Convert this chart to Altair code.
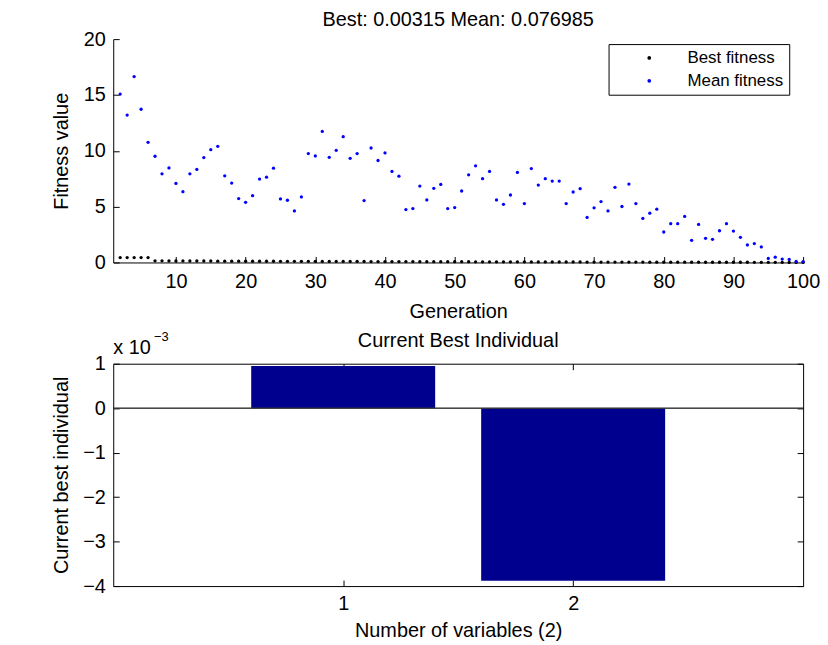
import altair as alt
import pandas as pd

FONT = "Liberation Sans"

# ---------------- data: top panel ----------------
generations = list(range(2, 101))
mean_fitness = [
    15.08, 13.2, 16.65, 13.72, 10.76, 9.51, 7.94, 8.47, 7.08, 6.34,
    7.94, 8.33, 9.39, 10.1, 10.4, 7.76, 7.11, 5.72, 5.39, 5.98,
    7.47, 7.64, 8.44, 5.69, 5.57, 4.62, 5.87, 9.75, 9.54, 11.73,
    9.42, 10.04, 11.26, 9.33, 9.75, 5.54, 10.25, 9.13, 9.81, 8.15,
    7.73, 4.74, 4.83, 6.84, 5.6, 6.64, 6.99, 4.83, 4.92, 6.4,
    7.85, 8.65, 7.5, 8.15, 5.6, 5.21, 6.04, 8.06, 5.27, 8.41,
    6.93, 7.5, 7.29, 7.29, 5.27,
    6.31, 6.61, 4.03, 4.89, 5.45, 4.62, 6.73, 5.01, 7.02, 5.27,
    3.94, 4.41, 4.77, 2.73, 3.47, 3.47, 4.12, 1.98, 3.41, 2.16,
    2.07, 2.84, 3.47, 2.81, 2.25, 1.57, 1.69, 1.39, 0.36, 0.47,
    0.30, 0.27, 0.09, 0.077,
]
best_fitness = [
    0.44, 0.44, 0.44, 0.44, 0.44,
    0.15, 0.15, 0.14, 0.14, 0.14, 0.13, 0.13, 0.13, 0.13, 0.12,
    0.12, 0.12, 0.12, 0.11, 0.11, 0.11, 0.11, 0.11, 0.10, 0.10,
    0.10, 0.10, 0.10, 0.10, 0.09, 0.09, 0.09, 0.09, 0.09, 0.09,
    0.09, 0.08, 0.08, 0.08, 0.08, 0.08, 0.08, 0.08, 0.07, 0.07,
    0.07, 0.07, 0.07, 0.07, 0.07, 0.07, 0.06, 0.06, 0.06, 0.06,
    0.06, 0.06, 0.06, 0.06, 0.05, 0.05, 0.05, 0.05, 0.05, 0.05,
    0.05, 0.05, 0.04, 0.04, 0.04, 0.04, 0.04, 0.04, 0.04, 0.04,
    0.04, 0.03, 0.03, 0.03, 0.03, 0.03, 0.03, 0.03, 0.03, 0.02,
    0.02, 0.02, 0.02, 0.02, 0.02, 0.02, 0.01, 0.01, 0.01, 0.01,
    0.01, 0.005, 0.004, 0.00315,
]
series_names = ["Best fitness", "Mean fitness"]
series_colors = ["#000000", "#0000FF"]
top_x_ticks = [10, 20, 30, 40, 50, 60, 70, 80, 90, 100]
top_y_ticks = [0, 5, 10, 15, 20]
top_title = "Best: 0.00315 Mean: 0.076985"

# ---------------- data: bottom panel ----------------
variables = [1, 2]
best_individual = [0.00095, -0.00388]
bottom_x_ticks = [1, 2]
bottom_y_ticks = [-0.004, -0.003, -0.002, -0.001, 0.0, 0.001]
exponent_texts = ["x 10", "\u22123"]
bottom_title = "Current Best Individual"

W = 695
H_TOP = 225
H_BOT = 224
FS = 20

df_top = pd.DataFrame({
    "generation": generations * 2,
    "fitness": best_fitness + mean_fitness,
    "series": [series_names[0]] * len(generations) + [series_names[1]] * len(generations),
})
df_bar = pd.DataFrame({"variable": variables, "value": best_individual})

top_xscale = alt.Scale(domain=[1, 100], nice=False, zero=False)
top_yscale = alt.Scale(domain=[0, 20], nice=False)

top_points = alt.Chart(df_top).mark_circle(size=11, opacity=1).encode(
    x=alt.X("generation:Q", scale=top_xscale,
            axis=alt.Axis(orient="bottom", values=top_x_ticks, ticks=False, tickSize=0,
                          labelFlush=False, labelPadding=9, domain=True,
                          title="Generation", titlePadding=10)),
    y=alt.Y("fitness:Q", scale=top_yscale,
            axis=alt.Axis(orient="left", values=top_y_ticks, ticks=False, tickSize=0,
                          labelFlush=False, labelPadding=8, minExtent=30, maxExtent=30,
                          title="Fitness value", titlePadding=12)),
    color=alt.Color("series:N", scale=alt.Scale(domain=series_names, range=series_colors),
                    legend=alt.Legend(title="", orient="none", legendX=499, legendY=5,
                                      strokeColor="black", fillColor="white", padding=5.5,
                                      labelFont=FONT, labelFontSize=17, labelColor="black",
                                      symbolType="circle", symbolSize=14, symbolStrokeWidth=0,
                                      symbolOffset=27, labelOffset=30, rowPadding=5)),
)

top_ticks = alt.Chart(df_top).mark_point(opacity=0).encode(
    x=alt.X("generation:Q", scale=top_xscale,
            axis=alt.Axis(orient="top", offset=-H_TOP, values=top_x_ticks, labels=False,
                          domain=False, ticks=True, tickSize=6, title="")),
    y=alt.Y("fitness:Q", scale=top_yscale,
            axis=alt.Axis(orient="right", offset=-W, values=top_y_ticks, labels=False,
                          domain=False, ticks=True, tickSize=6, title="", minExtent=0)),
)

top = alt.layer(top_points, top_ticks).resolve_axis(x="independent", y="independent").properties(
    width=W, height=H_TOP,
    title=alt.TitleParams(top_title, font=FONT, fontSize=FS, fontWeight="normal",
                          color="black", offset=-1),
)

bot_xscale = alt.Scale(domain=[0, 3], nice=False, zero=False)
bot_yscale = alt.Scale(domain=[-0.004, 0.001], nice=False)

bars = alt.Chart(df_bar).transform_calculate(
    x0="datum.variable - 0.4", x1="datum.variable + 0.4", base="0"
).mark_rect(color="#00008F").encode(
    x=alt.X("x0:Q", scale=bot_xscale,
            axis=alt.Axis(orient="bottom", values=bottom_x_ticks, ticks=False, tickSize=0,
                          labelFlush=False, labelPadding=8, domain=False,
                          title="Number of variables (2)", titlePadding=7)),
    x2="x1:Q",
    y=alt.Y("value:Q", scale=bot_yscale,
            axis=alt.Axis(orient="left", values=bottom_y_ticks, ticks=False, tickSize=0,
                          labelFlush=False, labelPadding=8, minExtent=30, maxExtent=30,
                          domain=False, labelExpr="format(datum.value * 1000, 'd')",
                          title="Current best individual", titlePadding=12)),
    y2="base:Q",
)

zero_line = alt.Chart(df_bar).mark_rule(color="#333333", strokeWidth=1).encode(
    y=alt.Y(datum=0, scale=bot_yscale, axis=None)
)

ticks_a = alt.Chart(df_bar).mark_point(opacity=0).encode(
    x=alt.X("variable:Q", scale=bot_xscale,
            axis=alt.Axis(orient="bottom", offset=-H_BOT, values=bottom_x_ticks, labels=False,
                          domain=False, ticks=True, tickSize=6, title="")),
    y=alt.Y("value:Q", scale=bot_yscale,
            axis=alt.Axis(orient="left", offset=-W, values=bottom_y_ticks, labels=False,
                          domain=False, ticks=True, tickSize=6, title="", minExtent=0)),
)
ticks_b = alt.Chart(df_bar).mark_point(opacity=0).encode(
    x=alt.X("variable:Q", scale=bot_xscale,
            axis=alt.Axis(orient="top", offset=-H_BOT, values=bottom_x_ticks, labels=False,
                          domain=False, ticks=True, tickSize=6, title="")),
    y=alt.Y("value:Q", scale=bot_yscale,
            axis=alt.Axis(orient="right", offset=-W, values=bottom_y_ticks, labels=False,
                          domain=False, ticks=True, tickSize=6, title="", minExtent=0)),
)

exp_base = alt.Chart(pd.DataFrame({"t": [exponent_texts[0]]})).mark_text(
    font=FONT, fontSize=FS, align="left", baseline="alphabetic", color="black"
).encode(text="t:N", x=alt.value(0), y=alt.value(-9.5))
exp_sup = alt.Chart(pd.DataFrame({"t": [exponent_texts[1]]})).mark_text(
    font=FONT, fontSize=13, align="left", baseline="alphabetic", color="black"
).encode(text="t:N", x=alt.value(41), y=alt.value(-22.5))

bottom = alt.layer(bars, zero_line, ticks_a, ticks_b, exp_base, exp_sup).resolve_axis(
    x="independent", y="independent"
).properties(
    width=W, height=H_BOT,
    view=alt.ViewBackground(stroke="black", strokeWidth=1),
    title=alt.TitleParams(bottom_title, font=FONT, fontSize=FS, fontWeight="normal",
                          color="black", offset=-20),
)

chart = alt.vconcat(top, bottom, spacing=10).properties(
    padding={"left": 43, "top": 0, "right": 0, "bottom": 0},
    background="white",
).configure_view(strokeWidth=0).configure_axis(
    grid=False, labelFont=FONT, labelFontSize=FS, labelColor="black",
    titleFont=FONT, titleFontSize=FS, titleFontWeight="normal", titleColor="black",
    domainColor="black", tickColor="black", domainWidth=1, tickWidth=1,
)

chart.save("out.html", embed_options={"renderer": "svg", "actions": False})
